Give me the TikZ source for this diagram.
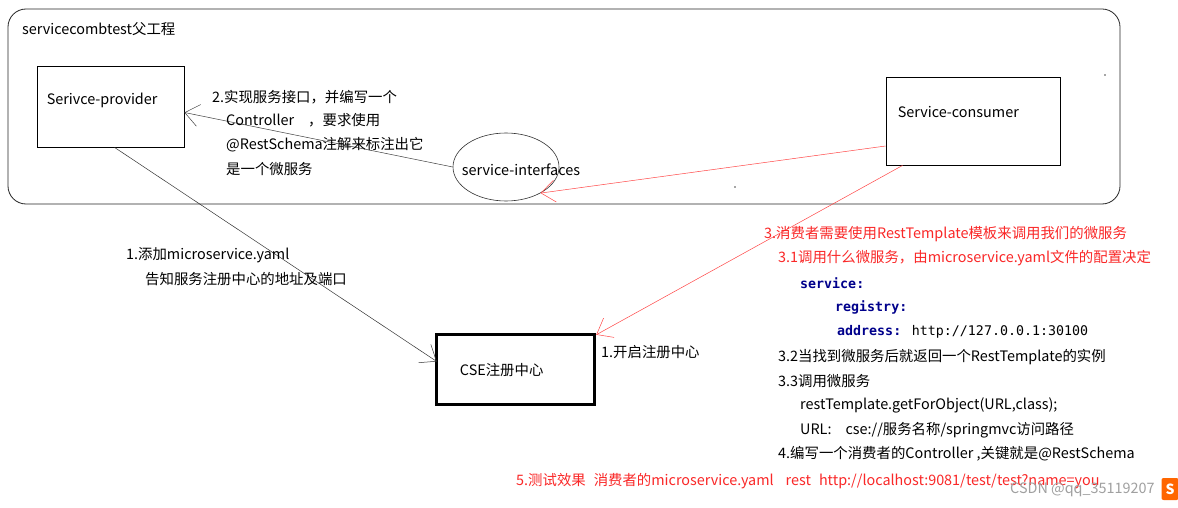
\documentclass[tikz,border=0pt]{standalone}
\usepackage{fontspec}
\setmainfont{Noto Sans CJK SC}
\newfontfamily\codefont{DejaVu Sans Mono}
\usetikzlibrary{arrows.meta,calc,shapes.geometric}
\definecolor{lnred}{RGB}{255,70,70}
\definecolor{txred}{RGB}{250,40,40}
\definecolor{codeblue}{RGB}{0,0,140}
\definecolor{wm}{RGB}{160,160,160}
\begin{document}
\begin{tikzpicture}[x=1pt,y=-1pt,
  every node/.style={font=\fontsize{14.4}{16}\selectfont, inner sep=0pt},
  txt/.style={anchor=west},
  rtxt/.style={anchor=west,text=txred},
  code/.style={anchor=west,font=\codefont\bfseries\fontsize{13.3}{15}\selectfont,text=codeblue},
  box/.style={draw=black, line width=0.8pt},
  arr/.style={-{Straight Barb[length=14pt,width=22pt]}, line width=0.5pt},
]
\useasboundingbox (0,0) rectangle (1178,508);
\fill[white] (0,0) rectangle (1178,508);

% container
\node[draw=black!85, line width=0.8pt, rounded corners=18pt, minimum width=1112pt, minimum height=195pt] (frame) at (564,106.5) {};
\node[txt] (title) at (22,29) {servicecombtest父工程};

% boxes
\node[box, minimum width=147pt, minimum height=81pt] (prov) at (110.5,106.5) {};
\node[txt] (provt) at ($(prov.west)+(10,-6)$) {Serivce-provider};
\node[box, minimum width=174pt, minimum height=88pt] (cons) at (973,121) {};
\node[txt] (const) at ($(cons.west)+(12,-9)$) {Service-consumer};
\node[draw=black!80, line width=0.6pt, ellipse, minimum width=106pt, minimum height=68pt] (iface) at (506,167) {};
\node (ifacet) at (521,170) {service-interfaces};
\node[draw=black, line width=3.5pt, minimum width=158pt, minimum height=70pt] (cse) at (515.5,369.5) {};
\node[txt] (cset) at ($(cse.west)+(25,1)$) {CSE注册中心};

% connectors
\draw[arr, black!75] (iface.west) -- ($(prov.east)+(0,6)$);
\draw[arr, black!80] ($(prov.south)+(4,0)$) -- ($(cse.west)+(2,-8)$);
\draw[arr, lnred] ($(cons.west)+(0,25)$) -- (iface.-37);
\draw[arr, lnred] ($(cons.south west)+(17,0)$) -- ($(cse.north east)+(0,2)$);

% annotations
\node[txt] (a2a) at (212,97) {2.实现服务接口，并编写一个};
\node[txt] (a2b) at (226,120) {Controller\hspace{14pt}，要求使用};
\node[txt] (a2c) at (226,145) {@RestSchema注解来标注出它};
\node[txt] (a2d) at (226,169) {是一个微服务};

\node[txt] (a1a) at (126,255) {1.添加microservice.yaml};
\node[txt] (a1b) at (145,279) {告知服务注册中心的地址及端口};
\node[txt] (a1c) at (601,352) {1.开启注册中心};

\node[rtxt] (a3) at (764,234) {3.消费者需要使用RestTemplate模板来调用我们的微服务};
\node[rtxt] (a31) at (778,258) {3.1调用什么微服务，由microservice.yaml文件的配置决定};
\node[code] (c1) at (800,283) {service:};
\node[code] (c2) at (835,307) {registry:};
\node[code] (c3) at (837,332) {address: {\mdseries\color{black}http://127.0.0.1:30100}};
\node[txt] (a32) at (778,357) {3.2当找到微服务后就返回一个RestTemplate的实例};
\node[txt] (a33) at (778,381) {3.3调用微服务};
\node[txt] (a33a) at (800,405) {restTemplate.getForObject(URL,class);};
\node[txt] (a33b) at (800,430) {URL:\hspace{14pt}cse://服务名称/springmvc访问路径};
\node[txt] (a4) at (778,454) {4.编写一个消费者的Controller\ ,关键就是@RestSchema};
\node[rtxt] (a5) at (516,481) {5.测试效果\hspace{8pt}消费者的microservice.yaml\hspace{12pt}rest\hspace{8pt}http://localhost:9081/test/test?name=you};

% dots
\fill[black!70] (1105,75) circle (0.8pt);
\fill[black!70] (735,187) circle (0.8pt);

% watermark
\node[txt, text=wm] (wmk) at (1010,490) {CSDN @qq\_35119207};
\node[fill=orange!80!red, rounded corners=2pt, minimum width=17pt, minimum height=22pt, text=white, font=\bfseries\fontsize{14}{14}\selectfont] (logo) at (1170,489) {S};
\end{tikzpicture}
\end{document}
